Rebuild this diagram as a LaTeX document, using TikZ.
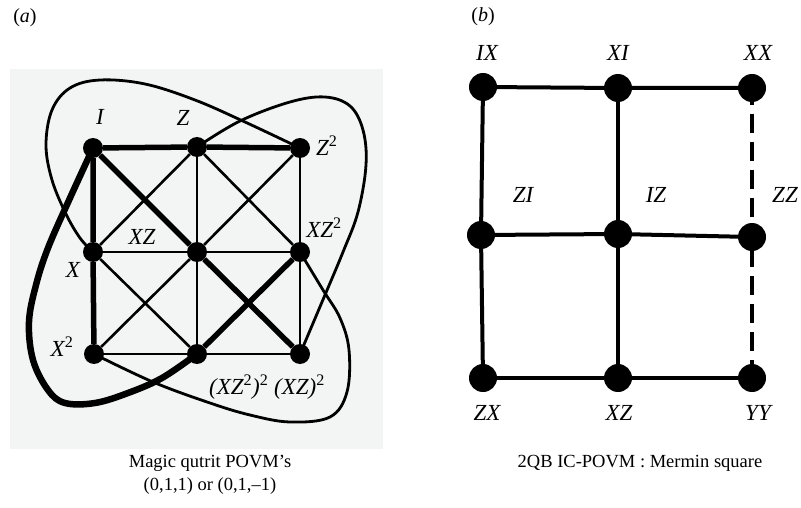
\documentclass[tikz,border=0pt]{standalone}
\usepackage{fontspec}
\setmainfont{Liberation Serif}
\newcommand\mysq{\textsuperscript{\upshape 2}}
\definecolor{panelbg}{RGB}{243,244,244}
\begin{document}
\begin{tikzpicture}[x=1pt,y=-1pt,
  qdot/.style={circle,fill=black,inner sep=0pt,minimum size=20pt},
  bdot/.style={circle,fill=black,inner sep=0pt,minimum size=28pt},
  lab/.style={font=\fontsize{23}{27}\selectfont\itshape,inner sep=0pt},
  captext/.style={font=\fontsize{18.5}{23}\selectfont,inner sep=0pt,align=center},
  thinline/.style={line width=2.6pt},
  thickline/.style={line width=5.5pt},
  loopline/.style={line width=2.8pt,line join=round},
  fatloop/.style={line width=6.5pt,line join=round,line cap=round},
  bline/.style={line width=4pt},
  bdash/.style={line width=4.5pt,dash pattern=on 19pt off 9pt}]
\useasboundingbox (0,0) rectangle (801,508);
\fill[panelbg] (10,69) rectangle (383,449);
% panel labels
\node[captext,font=\fontsize{20}{24}\selectfont] (pa) at (25,18) {(\textit{a})};
\node[captext,font=\fontsize{20}{24}\selectfont] (pb) at (483,17) {(\textit{b})};
% ---------- panel (a) nodes ----------
\node[qdot] (qI) at (93,148) {};
\node[qdot] (qZ) at (197,147) {};
\node[qdot] (qZZ) at (300,148) {};
\node[qdot] (qX) at (93,252) {};
\node[qdot] (qXZ) at (197,252) {};
\node[qdot] (qXZZ) at (300,252) {};
\node[qdot] (qXX) at (94,354) {};
\node[qdot] (qBa) at (197,354) {};
\node[qdot] (qBb) at (300,354) {};
% curves
\draw[loopline] plot[smooth,tension=0.6] coordinates {(qX.center) (80,238) (66,214) (52,180) (46,145) (52,110) (70,88) (100,80) (145,84) (195,100) (245,122) (qZZ.center)};
\draw[loopline] plot[smooth,tension=0.6] coordinates {(qZ.center) (240,121) (290,102) (325,97) (350,106) (363,130) (366,165) (358,212) (343,252) (322,302) (qBb.center)};
\draw[loopline] plot[smooth,tension=0.6] coordinates {(qXX.center) (153,382) (210,403) (250,415) (290,422) (330,417) (347,392) (349,350) (340,318) (323,290) (qXZZ.center)};
\draw[fatloop] plot[smooth,tension=0.6] coordinates {(qI.center) (70,198) (48,248) (36,285) (29,322) (33,360) (48,390) (65,403) (95,403) (128,393) (162,378) (qBa.center)};
% thin grid and diagonals
\draw[thinline] (qX) -- (qXZ) -- (qXZZ);
\draw[thinline] (qXX) -- (qBa) -- (qBb);
\draw[thinline] (qZ) -- (qXZ) -- (qBa);
\draw[thinline] (qZZ) -- (qXZZ) -- (qBb);
\draw[thinline] (qZ) -- (qX);
\draw[thinline] (qZ) -- (qXZZ);
\draw[thinline] (qZZ) -- (qXZ) -- (qXX);
\draw[thinline] (qX) -- (qBa);
% thick lines
\draw[thickline] (qI) -- (qZ) -- (qZZ);
\draw[thickline] (qI) -- (qX) -- (qXX);
\draw[thickline] (qI) -- (qXZ) -- (qBb);
\draw[thickline] (qXZZ) -- (qBa);
% labels (a)
\node[lab] (lI) at (100,117) {I};
\node[lab] (lZ) at (183,118) {Z};
\node[lab,anchor=west] (lZZ) at (316,146) {Z\mysq};
\node[lab] (lXZ) at (142,237) {XZ};
\node[lab] (lXZZ) at (324,228) {XZ\mysq};
\node[lab] (lX) at (73,270) {X};
\node[lab] (lXX) at (62,347) {X\mysq};
\node[lab] (lB) at (267,387) {(XZ\mysq)\mysq{} (XZ)\mysq};
\node[captext] (capa) at (210,475) {Magic qutrit POVM’s\\(0,1,1) or (0,1,–1)};
% ---------- panel (b) ----------
\node[bdot] (bIX) at (483,87) {};
\node[bdot] (bXI) at (618,88) {};
\node[bdot] (bXX) at (752,88) {};
\node[bdot] (bZI) at (481,235) {};
\node[bdot] (bIZ) at (618,234) {};
\node[bdot] (bZZ) at (752,237) {};
\node[bdot] (bZX) at (483,378) {};
\node[bdot] (bXZ) at (618,378) {};
\node[bdot] (bYY) at (752,378) {};
\draw[bline] (bIX) -- (bXI) -- (bXX);
\draw[bline] (bZI) -- (bIZ) -- (bZZ);
\draw[bline] (bZX) -- (bXZ) -- (bYY);
\draw[bline] (bIX) -- (bZI) -- (bZX);
\draw[bline] (bXI) -- (bIZ) -- (bXZ);
\draw[bdash,dash phase=2pt] (bXX.center) -- (bZZ.center);
\draw[bdash,dash phase=17pt] (bZZ.center) -- (bYY.center);
\node[lab] (tIX) at (487,53) {IX};
\node[lab] (tXI) at (618,53) {XI};
\node[lab] (tXX) at (758,53) {XX};
\node[lab] (tZI) at (523,195) {ZI};
\node[lab] (tIZ) at (656,195) {IZ};
\node[lab] (tZZ) at (785,195) {ZZ};
\node[lab] (tZX) at (487,413) {ZX};
\node[lab] (tXZ) at (619,413) {XZ};
\node[lab] (tYY) at (758,413) {YY};
\node[captext] (capb) at (640,463) {2QB IC-POVM : Mermin square};
\end{tikzpicture}
\end{document}
